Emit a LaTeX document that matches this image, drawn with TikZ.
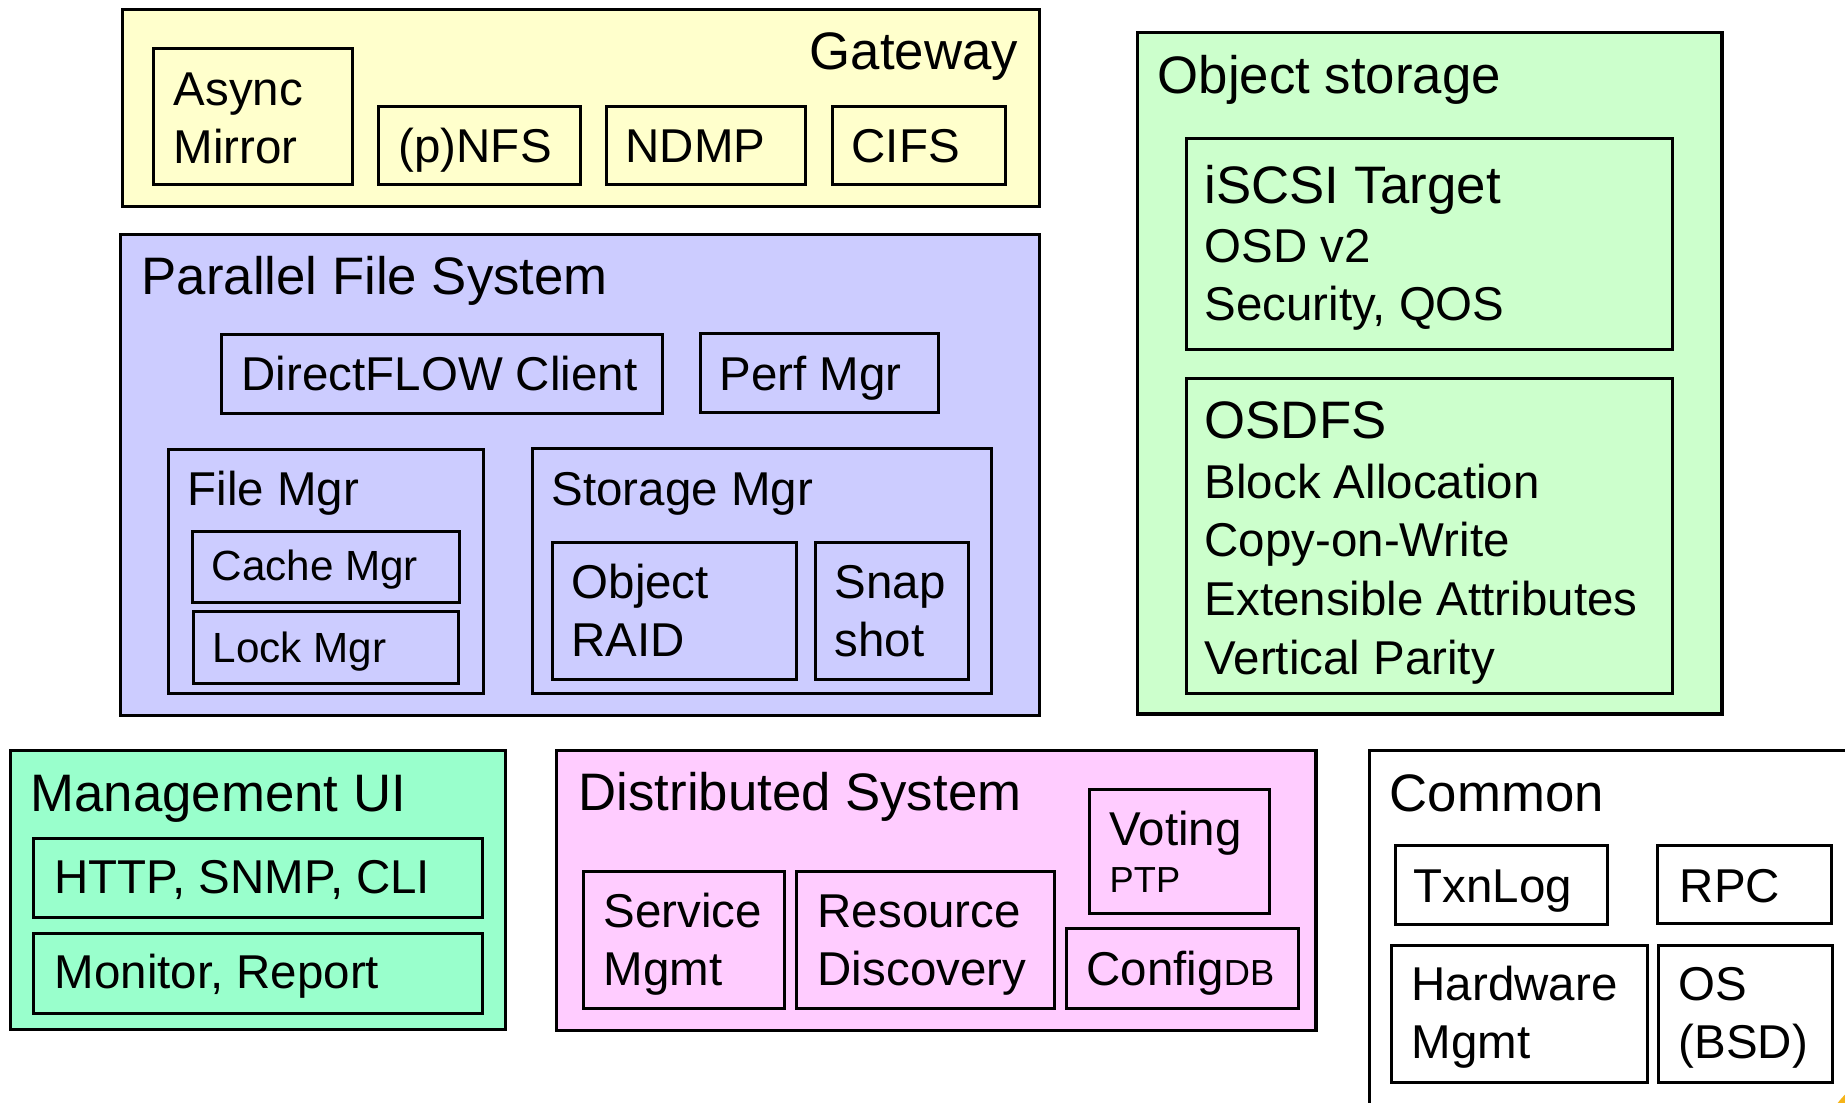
\documentclass[tikz,border=0pt]{standalone}
\usepackage{fontspec}
\setmainfont{Liberation Sans}
\usepackage{xcolor}

\definecolor{gatewayfill}{HTML}{FFFFCC}
\definecolor{pfsfill}{HTML}{CCCCFF}
\definecolor{objfill}{HTML}{CCFFCC}
\definecolor{mgmtfill}{HTML}{99FFCC}
\definecolor{distfill}{HTML}{FFCCFF}
\definecolor{cornerfill}{HTML}{F6B418}

\newcommand{\twolines}[2]{\begin{tabular}[t]{@{}l@{}}#1\\#2\end{tabular}}

\tikzset{
  panel/.style={draw, line width=0.9pt, anchor=north west, inner sep=0pt},
  part/.style={draw, line width=0.75pt, anchor=north west, inner sep=0pt},
  head/.style={anchor=base west, inner sep=0pt, font=\fontsize{15}{18}\selectfont},
  txt/.style={anchor=base west, inner sep=0pt, font=\fontsize{13.5}{16.7}\selectfont},
  minor/.style={anchor=base west, inner sep=0pt, font=\fontsize{12}{14.4}\selectfont},
  note/.style={anchor=base west, inner sep=0pt, font=\fontsize{10.3}{12.4}\selectfont}
}

\begin{document}
\begin{tikzpicture}[x=0.01cm, y=-0.01cm]
  \useasboundingbox (0,0) rectangle (1845,1103);
  \clip (0,0) rectangle (1845,1103);

  % Gateway
  \node[panel, fill=gatewayfill, minimum width=9.16cm, minimum height=1.97cm] (gw) at (121,8) {};
  \node[head, anchor=base east] (gwT) at ([shift={(-22,61)}]gw.north east) {Gateway};
  \node[part, minimum width=1.99cm, minimum height=1.36cm] (async) at (152,47) {};
  \node[txt] (asyncT) at ([shift={(21,58)}]async.north west) {\twolines{Async}{Mirror}};
  \node[part, minimum width=2.02cm, minimum height=0.78cm] (nfs) at (377,105) {};
  \node[txt] (nfsT) at ([shift={(21,57)}]nfs.north west) {(p)NFS};
  \node[part, minimum width=1.99cm, minimum height=0.78cm] (ndmp) at (605,105) {};
  \node[txt] (ndmpT) at ([shift={(20,57)}]ndmp.north west) {NDMP};
  \node[part, minimum width=1.73cm, minimum height=0.78cm] (cifs) at (831,105) {};
  \node[txt] (cifsT) at ([shift={(20,57)}]cifs.north west) {CIFS};

  % Parallel File System
  \node[panel, fill=pfsfill, minimum width=9.18cm, minimum height=4.81cm] (pfs) at (119,233) {};
  \node[head] (pfsT) at ([shift={(22,61)}]pfs.north west) {Parallel File System};
  \node[part, minimum width=4.41cm, minimum height=0.79cm] (dflow) at (220,333) {};
  \node[txt] (dflowT) at ([shift={(21,57)}]dflow.north west) {DirectFLOW Client};
  \node[part, minimum width=2.38cm, minimum height=0.79cm] (perf) at (699,332) {};
  \node[txt] (perfT) at ([shift={(20,58)}]perf.north west) {Perf Mgr};
  \node[part, minimum width=3.15cm, minimum height=2.44cm] (filemgr) at (167,448) {};
  \node[txt] (filemgrT) at ([shift={(20,57)}]filemgr.north west) {File Mgr};
  \node[part, minimum width=2.67cm, minimum height=0.71cm] (cache) at (191,530) {};
  \node[minor] (cacheT) at ([shift={(20,50)}]cache.north west) {Cache Mgr};
  \node[part, minimum width=2.65cm, minimum height=0.72cm] (lock) at (192,610) {};
  \node[minor] (lockT) at ([shift={(20,52)}]lock.north west) {Lock Mgr};
  \node[part, minimum width=4.59cm, minimum height=2.45cm] (stormgr) at (531,447) {};
  \node[txt] (stormgrT) at ([shift={(20,58)}]stormgr.north west) {Storage Mgr};
  \node[part, minimum width=2.44cm, minimum height=1.37cm] (oraid) at (551,541) {};
  \node[txt] (oraidT) at ([shift={(20,57)}]oraid.north west) {\twolines{Object}{RAID}};
  \node[part, minimum width=1.53cm, minimum height=1.37cm] (snap) at (814,541) {};
  \node[txt] (snapT) at ([shift={(20,57)}]snap.north west) {\twolines{Snap}{shot}};

  % Object storage
  \node[panel, fill=objfill, minimum width=5.84cm, minimum height=6.81cm] (obj) at (1136,31) {};
  \node[head] (objT) at ([shift={(21,62)}]obj.north west) {Object storage};
  \node[part, minimum width=4.86cm, minimum height=2.11cm] (iscsi) at (1185,137) {};
  \node[head] (iscsiT) at ([shift={(19,66)}]iscsi.north west) {iSCSI Target};
  \node[txt] (iscsiL) at ([shift={(19,125)}]iscsi.north west) {\twolines{OSD v2}{Security, QOS}};
  \node[part, minimum width=4.86cm, minimum height=3.15cm] (osdfs) at (1185,377) {};
  \node[head] (osdfsT) at ([shift={(19,61)}]osdfs.north west) {OSDFS};
  \node[txt] (osdfsL) at ([shift={(19,121)}]osdfs.north west)
    {\begin{tabular}[t]{@{}l@{}}Block Allocation\\Copy-on-Write\\Extensible Attributes\\Vertical Parity\end{tabular}};

  % Management UI
  \node[panel, fill=mgmtfill, minimum width=4.95cm, minimum height=2.79cm] (mgmt) at (9,749) {};
  \node[head] (mgmtT) at ([shift={(21,62)}]mgmt.north west) {Management UI};
  \node[part, minimum width=4.49cm, minimum height=0.79cm] (http) at (32,837) {};
  \node[txt] (httpT) at ([shift={(22,56)}]http.north west) {HTTP, SNMP, CLI};
  \node[part, minimum width=4.49cm, minimum height=0.80cm] (monitor) at (32,932) {};
  \node[txt] (monitorT) at ([shift={(22,56)}]monitor.north west) {Monitor, Report};

  % Distributed System
  \node[panel, fill=distfill, minimum width=7.59cm, minimum height=2.80cm] (dist) at (555,749) {};
  \node[head] (distT) at ([shift={(23,61)}]dist.north west) {Distributed System};
  \node[part, minimum width=2.01cm, minimum height=1.37cm] (service) at (582,870) {};
  \node[txt] (serviceT) at ([shift={(21,57)}]service.north west) {\twolines{Service}{Mgmt}};
  \node[part, minimum width=2.58cm, minimum height=1.37cm] (resource) at (795,870) {};
  \node[txt] (resourceT) at ([shift={(22,57)}]resource.north west) {\twolines{Resource}{Discovery}};
  \node[part, minimum width=1.80cm, minimum height=1.24cm] (voting) at (1088,788) {};
  \node[txt] (votingT) at ([shift={(21,57)}]voting.north west) {Voting};
  \node[note] (ptpT) at ([shift={(21,104)}]voting.north west) {PTP};
  \node[part, minimum width=2.32cm, minimum height=0.80cm] (configdb) at (1065,927) {};
  \node[txt] (configdbT) at ([shift={(21,58)}]configdb.north west) {Config{\fontsize{10.3}{12.4}\selectfont DB}};

  % Common
  \node[panel, fill=white, minimum width=5.00cm, minimum height=4.00cm] (common) at (1368,749) {};
  \node[head] (commonT) at ([shift={(21,62)}]common.north west) {Common};
  \node[part, minimum width=2.12cm, minimum height=0.79cm] (txnlog) at (1394,844) {};
  \node[txt] (txnlogT) at ([shift={(19,58)}]txnlog.north west) {TxnLog};
  \node[part, minimum width=1.74cm, minimum height=0.78cm] (rpc) at (1656,844) {};
  \node[txt] (rpcT) at ([shift={(23,58)}]rpc.north west) {RPC};
  \node[part, minimum width=2.56cm, minimum height=1.37cm] (hwmgmt) at (1390,944) {};
  \node[txt] (hwmgmtT) at ([shift={(21,56)}]hwmgmt.north west) {\twolines{Hardware}{Mgmt}};
  \node[part, minimum width=1.74cm, minimum height=1.37cm] (os) at (1657,944) {};
  \node[txt] (osT) at ([shift={(21,56)}]os.north west) {\twolines{OS}{(BSD)}};

  % corner mark
  \fill[cornerfill] (1900,1150) circle (0.78cm);
\end{tikzpicture}
\end{document}
